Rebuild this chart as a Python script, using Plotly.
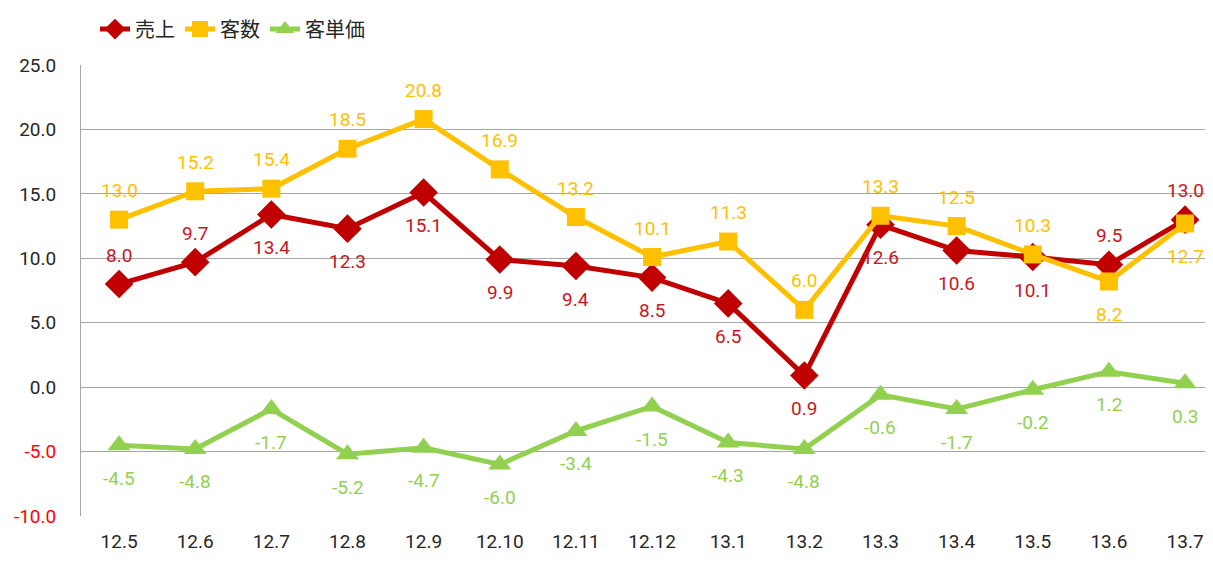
import plotly.graph_objects as go

months = ["12.5", "12.6", "12.7", "12.8", "12.9", "12.10", "12.11", "12.12",
          "13.1", "13.2", "13.3", "13.4", "13.5", "13.6", "13.7"]
sales = [8.0, 9.7, 13.4, 12.3, 15.1, 9.9, 9.4, 8.5, 6.5, 0.9, 12.6, 10.6, 10.1, 9.5, 13.0]
customers = [13.0, 15.2, 15.4, 18.5, 20.8, 16.9, 13.2, 10.1, 11.3, 6.0, 13.3, 12.5, 10.3, 8.2, 12.7]
unit_price = [-4.5, -4.8, -1.7, -5.2, -4.7, -6.0, -3.4, -1.5, -4.3, -4.8, -0.6, -1.7, -0.2, 1.2, 0.3]

sales_pos = ["a", "a", "b", "b", "b", "b", "b", "b", "b", "b", "b", "b", "b", "a", "a"]
cust_pos = ["a"] * 13 + ["b", "b"]
price_pos = ["b"] * 15

y_ticks = [25, 20, 15, 10, 5, 0, -5, -10]

FONT = "Roboto, sans-serif"
FS = 19
RED, YEL, GRN = "#C00000", "#FFC000", "#92D050"

fig = go.Figure()
fig.add_trace(go.Scatter(x=months, y=sales, name="売上", mode="lines+markers",
                         line=dict(color=RED, width=5),
                         marker=dict(symbol="diamond", size=22, color=RED)))
fig.add_trace(go.Scatter(x=months, y=customers, name="客数", mode="lines+markers",
                         line=dict(color=YEL, width=5),
                         marker=dict(symbol="square", size=18, color=YEL)))
fig.add_trace(go.Scatter(x=months, y=unit_price, name="客単価", mode="lines+markers",
                         line=dict(color=GRN, width=5),
                         marker=dict(symbol="triangle-up", size=20, color=GRN)))

annos = []
for vals, pos, col in [(sales, sales_pos, "#C8161D"), (customers, cust_pos, YEL),
                       (unit_price, price_pos, GRN)]:
    for i, (v, p) in enumerate(zip(vals, pos)):
        annos.append(dict(x=i, y=v, xref="x", yref="y", text=f"{v:.1f}",
                          showarrow=False, yshift=29 if p == "a" else -33,
                          font=dict(family=FONT, size=FS, color=col)))

def tick_text(v):
    s = f"{v:.1f}"
    if v < 0:
        return f"<span style='color:#FF0000'>{s}</span>"
    return s

fig.update_layout(
    width=1205, height=554,
    paper_bgcolor="white", plot_bgcolor="white",
    margin=dict(l=73, r=0, t=57, b=46),
    font=dict(family=FONT, size=FS, color="#262626"),
    annotations=annos,
    showlegend=True,
    legend=dict(orientation="h", x=0.0722, y=0.962, xref="container", yref="container",
                xanchor="left", yanchor="middle",
                font=dict(family="Noto Sans CJK JP", size=20, color="#262626"),
                itemwidth=30, tracegroupgap=0, bgcolor="rgba(0,0,0,0)"),
    xaxis=dict(type="category", range=[-0.5, 14.367], showgrid=False,
               showline=False, ticks="outside", ticklen=8, automargin=False,
               tickcolor="rgba(0,0,0,0)",
               tickfont=dict(family=FONT, size=FS, color="#262626")),
    yaxis=dict(range=[-10, 25], tickvals=y_ticks, automargin=False,
               ticktext=[tick_text(v) for v in y_ticks],
               showgrid=True, gridcolor="#A6A6A6", gridwidth=1,
               zeroline=True, zerolinecolor="#A6A6A6", zerolinewidth=1,
               showline=True, linecolor="#A6A6A6", linewidth=1,
               ticks="outside", ticklen=20, tickcolor="rgba(0,0,0,0)",
               tickfont=dict(family=FONT, size=FS, color="#262626")),
)
fig.write_html("out.html")
